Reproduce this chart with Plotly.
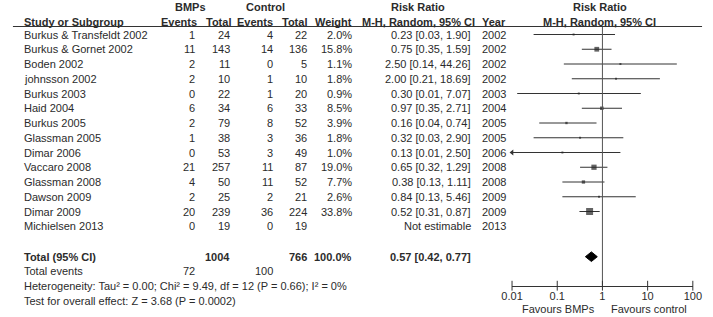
import math
import plotly.graph_objects as go

# ---------------- data ----------------
studies = ["Burkus & Transfeldt 2002", "Burkus & Gornet 2002", "Boden 2002", "johnsson 2002",
           "Burkus 2003", "Haid 2004", "Burkus 2005", "Glassman 2005", "Dimar 2006",
           "Vaccaro 2008", "Glassman 2008", "Dawson 2009", "Dimar 2009", "Michielsen 2013"]
bmp_events = [1, 11, 2, 2, 0, 6, 2, 1, 0, 21, 4, 2, 20, 0]
bmp_total = [24, 143, 11, 10, 22, 34, 79, 38, 53, 257, 50, 25, 239, 19]
ctl_events = [4, 14, 0, 1, 1, 6, 8, 3, 3, 11, 11, 2, 36, 0]
ctl_total = [22, 136, 5, 10, 20, 33, 52, 36, 49, 87, 52, 21, 224, 19]
weights = [2.0, 15.8, 1.1, 1.8, 0.9, 8.5, 3.9, 1.8, 1.0, 19.0, 7.7, 2.6, 33.8, None]
rr = [0.23, 0.75, 2.50, 2.00, 0.30, 0.97, 0.16, 0.32, 0.13, 0.65, 0.38, 0.84, 0.52, None]
ci_lo = [0.03, 0.35, 0.14, 0.21, 0.013, 0.35, 0.04, 0.03, 0.007, 0.32, 0.13, 0.13, 0.31, None]
ci_hi = [1.90, 1.59, 44.26, 18.69, 7.07, 2.71, 0.74, 2.90, 2.50, 1.29, 1.11, 5.46, 0.87, None]
years = [2002, 2002, 2002, 2002, 2003, 2004, 2005, 2005, 2006, 2008, 2008, 2009, 2009, 2013]

total_bmp_n = 1004
total_ctl_n = 766
total_weight = 100.0
total_bmp_events = 72
total_ctl_events = 100
total_rr = 0.57
total_lo = 0.42
total_hi = 0.77
heterogeneity = "Heterogeneity: Tau² = 0.00; Chi² = 9.49, df = 12 (P = 0.66); I² = 0%"
overall_test = "Test for overall effect: Z = 3.68 (P = 0.0002)"

tick_vals = [0.01, 0.1, 1, 10, 100]
tick_labels = ["0.01", "0.1", "1", "10", "100"]
axis_min, axis_max = 0.01, 100

# ---------------- layout constants (pixels) ----------------
W, H = 713, 317
FONT = "Liberation Sans, Arial, sans-serif"
TXT = "#2b2b2b"
FS = 11
row0, dy = 34.5, 14.75
row_y = [row0 + i * dy for i in range(len(studies))]
y_total = 256.7
y_events = 271.3
y_het = 286.0
y_test = 300.5
y_h1, y_h2, y_line = 7.0, 22.0, 26.5
y_axis = 285.7
y_fav = 309.0
plot_left, plot_right = 515.5, 701.5

fig = go.Figure()
ann = []


def txt(x, y, s, anchor="left", bold=False):
    ann.append(dict(x=x, y=y, xref="x", yref="y", text=("<b>%s</b>" % s) if bold else s,
                    showarrow=False, xanchor=anchor, yanchor="middle",
                    font=dict(family=FONT, size=FS, color=TXT)))


# headers
txt(185, y_h1, "BMPs", "center", True)
txt(262, y_h1, "Control", "center", True)
txt(419, y_h1, "Risk Ratio", "center", True)
txt(606, y_h1, "Risk Ratio", "center", True)
txt(11, y_h2, "Study or Subgroup", "left", True)
txt(193, y_h2, "Events", "right", True)
txt(228, y_h2, "Total", "right", True)
txt(272, y_h2, "Events", "right", True)
txt(307, y_h2, "Total", "right", True)
txt(353, y_h2, "Weight", "right", True)
txt(419, y_h2, "M-H, Random, 95% CI", "center", True)
txt(483, y_h2, "Year", "left", True)
txt(605, y_h2, "M-H, Random, 95% CI", "center", True)

for i, s in enumerate(studies):
    y = row_y[i]
    txt(11, y, s)
    txt(191, y, str(bmp_events[i]), "right")
    txt(227, y, str(bmp_total[i]), "right")
    txt(272, y, str(ctl_events[i]), "right")
    txt(307, y, str(ctl_total[i]), "right")
    if weights[i] is not None:
        txt(353, y, "%.1f%%" % weights[i], "right")
        txt(475, y, "%.2f [%.2f, %.2f]" % (rr[i], ci_lo[i], ci_hi[i]), "right")
    else:
        txt(475, y, "Not estimable", "right")
    txt(483, y, str(years[i]))

txt(11, y_total, "Total (95% CI)", "left", True)
txt(227, y_total, str(total_bmp_n), "right", True)
txt(307, y_total, str(total_ctl_n), "right", True)
txt(353, y_total, "%.1f%%" % total_weight, "right", True)
txt(475, y_total, "%.2f [%.2f, %.2f]" % (total_rr, total_lo, total_hi), "right", True)
txt(11, y_events, "Total events")
txt(191, y_events, str(total_bmp_events), "right")
txt(272, y_events, str(total_ctl_events), "right")
txt(11, y_het, heterogeneity)
txt(11, y_test, overall_test)
txt(603, y_fav, "Favours BMPs", "right")
txt(615, y_fav, "Favours control", "left")

# CI lines
line_col = "#333333"
for i in range(len(studies)):
    if rr[i] is None:
        continue
    lo = max(ci_lo[i], axis_min)
    hi = min(ci_hi[i], axis_max)
    fig.add_trace(go.Scatter(x=[lo, hi], y=[row_y[i]] * 2, xaxis="x2", yaxis="y", mode="lines",
                             line=dict(color=line_col, width=1), hoverinfo="skip", cliponaxis=False))
    if ci_lo[i] < axis_min:
        fig.add_trace(go.Scatter(x=[axis_min], y=[row_y[i]], xaxis="x2", yaxis="y", mode="markers",
                                 marker=dict(symbol="triangle-left", size=5, color=line_col),
                                 hoverinfo="skip", cliponaxis=False))

# point estimates (area proportional to weight)
px, py, ps = [], [], []
for i in range(len(studies)):
    if rr[i] is None:
        continue
    px.append(rr[i]); py.append(row_y[i]); ps.append(max(2.0, 1.2 * math.sqrt(weights[i])))
fig.add_trace(go.Scatter(x=px, y=py, xaxis="x2", yaxis="y", mode="markers",
                         marker=dict(symbol="square", size=ps, color="#222222", line=dict(width=0)),
                         hoverinfo="skip", cliponaxis=False))

# diamond
dh = 4.8
fig.add_trace(go.Scatter(x=[total_lo, total_rr, total_hi, total_rr, total_lo],
                         y=[y_total, y_total - dh, y_total, y_total + dh, y_total],
                         xaxis="x2", yaxis="y", mode="lines", fill="toself", fillcolor="#000000",
                         line=dict(color="#000000", width=1), hoverinfo="skip", cliponaxis=False))

# line of no effect
fig.add_trace(go.Scatter(x=[1, 1], y=[y_line, y_axis], xaxis="x2", yaxis="y", mode="lines",
                         line=dict(color="#555555", width=1), hoverinfo="skip", cliponaxis=False))

# tick marks crossing the axis line
fig.add_trace(go.Scatter(x=tick_vals, y=[y_axis] * len(tick_vals), xaxis="x2", yaxis="y",
                         mode="markers", marker=dict(symbol="line-ns", size=7,
                                                     line=dict(color="#333333", width=1)),
                         hoverinfo="skip", cliponaxis=False))

fig.update_layout(
    width=W, height=H, margin=dict(l=0, r=0, t=0, b=0),
    paper_bgcolor="white", plot_bgcolor="rgba(0,0,0,0)", showlegend=False,
    annotations=ann,
    shapes=[dict(type="line", xref="x", yref="y", x0=2, x1=711, y0=y_line, y1=y_line,
                 line=dict(color="#333333", width=1))],
    xaxis=dict(range=[0, W], domain=[0, 1], visible=False, fixedrange=True),
    yaxis=dict(range=[H, 0], domain=[0, 1], visible=False, fixedrange=True),
    xaxis2=dict(type="log", range=[math.log10(axis_min), math.log10(axis_max)],
                domain=[plot_left / W, plot_right / W], anchor="free", position=1 - y_axis / H,
                showline=True, linecolor="#333333", linewidth=1, showgrid=False, zeroline=False,
                ticks="", tickvals=tick_vals, ticktext=tick_labels,
                tickfont=dict(family=FONT, size=FS, color=TXT), fixedrange=True),
)

fig.write_html("out.html", config={"displayModeBar": False},
               post_script="document.body.style.margin='0';")
